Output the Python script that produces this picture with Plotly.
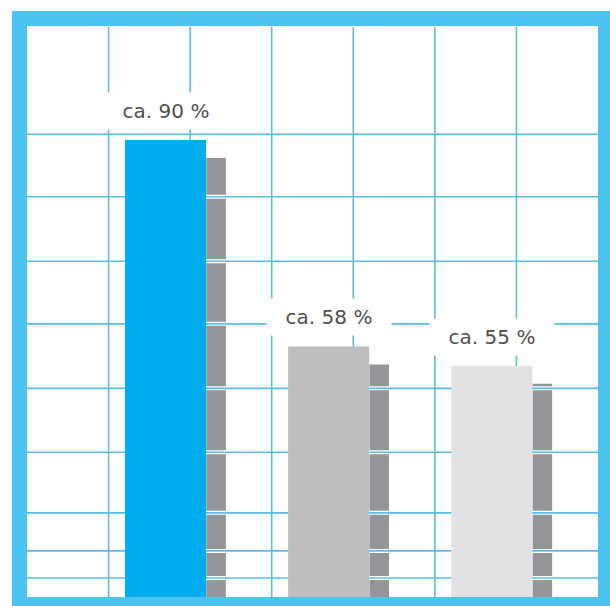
import plotly.graph_objects as go

# ---------------- data ----------------
values = [90, 58, 55]
labels = ["ca. 90 %", "ca. 58 %", "ca. 55 %"]
bar_colors = ["#00AEEF", "#BDBEC0", "#E1E2E3"]

# ---------------- style / layout constants ----------------
W, H = 610, 606
ML, MR, MT, MB = 27, 12, 27, 9
X_RANGE = [-0.849, 2.651]
Y_RANGE = [19.15, 107.52]
BAR_WIDTH = 0.497
SHADOW_OFFSET = 0.25
SHADOW_WIDTH = 0.12
SHADOW_DROP = 2.8
SHADOW_COLOR = "#939598"
GRID_COLOR = "#58BCE3"
FRAME_COLOR = "#4DC3F0"
GRID_COLS = 7
GRID_Y = [90.9, 81.2, 71.2, 61.5, 51.5, 41.6, 32.2, 26.3, 22.1]
LABEL_FONT = dict(family="DejaVu Sans", size=20, color="#4F4F4F")

xs = list(range(len(values)))

fig = go.Figure()

# shadow bars (base subplot)
fig.add_trace(go.Bar(
    x=xs, y=[v - SHADOW_DROP for v in values],
    offset=SHADOW_OFFSET, width=SHADOW_WIDTH,
    marker=dict(color=SHADOW_COLOR, line=dict(width=0)),
    hoverinfo="skip", showlegend=False,
))

# grid lines (above shadows, below main bars)
hx, hy = [], []
for gy in GRID_Y:
    hx += [X_RANGE[0], X_RANGE[1], None]
    hy += [gy, gy, None]
col = (X_RANGE[1] - X_RANGE[0]) / GRID_COLS
vx, vy = [], []
for k in range(1, GRID_COLS):
    gx = X_RANGE[0] + col * k
    vx += [gx, gx, None]
    vy += [Y_RANGE[0], Y_RANGE[1], None]

fig.add_trace(go.Scatter(x=hx, y=hy, mode="lines",
                         line=dict(color="white", width=4),
                         hoverinfo="skip", showlegend=False))
fig.add_trace(go.Scatter(x=hx, y=hy, mode="lines",
                         line=dict(color=GRID_COLOR, width=1.6),
                         hoverinfo="skip", showlegend=False))
fig.add_trace(go.Scatter(x=vx, y=vy, mode="lines",
                         line=dict(color=GRID_COLOR, width=1.6),
                         hoverinfo="skip", showlegend=False))

# main bars (overlay subplot, drawn on top)
fig.add_trace(go.Bar(
    x=xs, y=values, width=BAR_WIDTH,
    marker=dict(color=bar_colors, line=dict(width=0)),
    xaxis="x2", yaxis="y2",
    hoverinfo="skip", showlegend=False,
))

for x, v, t in zip(xs, values, labels):
    fig.add_annotation(
        x=x, y=v, xref="x2", yref="y2", text=t, showarrow=False,
        yshift=29, bgcolor="white", width=122, height=34,
        font=LABEL_FONT, align="center",
    )

pw = W - ML - MR
ph = H - MT - MB
half = 7.5
fig.add_shape(
    type="rect", xref="paper", yref="paper",
    x0=(12 + half - ML) / pw, x1=(598 + half - ML) / pw,
    y0=(H - MB - (597 + half)) / ph, y1=(H - MB - (11 + half)) / ph,
    line=dict(color=FRAME_COLOR, width=15), fillcolor="rgba(0,0,0,0)",
    layer="above",
)

axis_common = dict(visible=False, showgrid=False, zeroline=False, fixedrange=True)
fig.update_layout(
    width=W, height=H,
    margin=dict(l=ML, r=MR, t=MT, b=MB, pad=0),
    paper_bgcolor="white", plot_bgcolor="white",
    barmode="overlay",
    showlegend=False,
    xaxis=dict(range=X_RANGE, **axis_common),
    yaxis=dict(range=Y_RANGE, **axis_common),
    xaxis2=dict(range=X_RANGE, overlaying="x", matches="x", **axis_common),
    yaxis2=dict(range=Y_RANGE, overlaying="y", matches="y", **axis_common),
)

fig.write_html("out.html")
